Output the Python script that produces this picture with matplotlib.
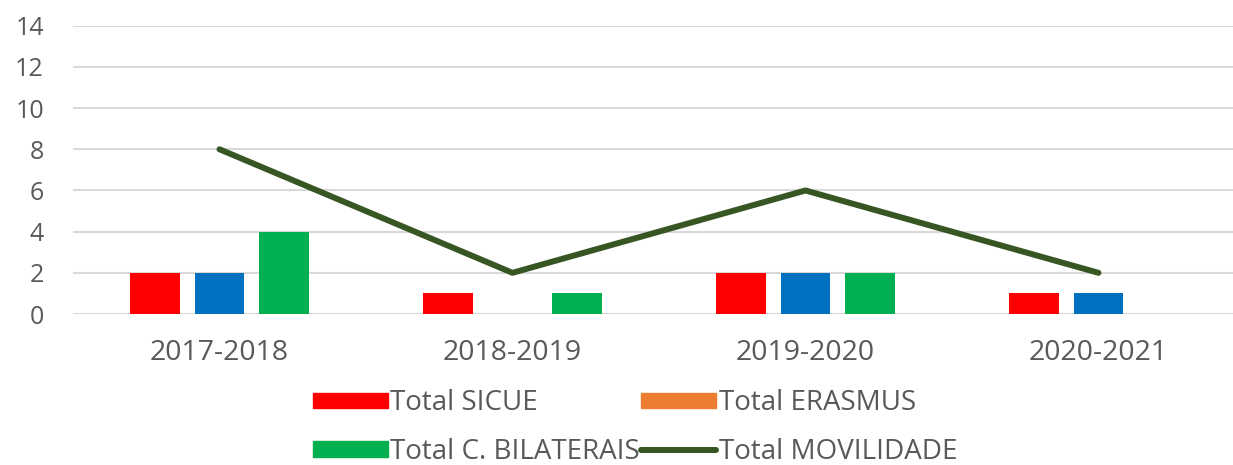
import matplotlib.pyplot as plt
import numpy as np
from matplotlib.patches import Patch
from matplotlib.lines import Line2D

plt.rcParams['font.family'] = ['Open Sans', 'DejaVu Sans']

categories = ["2017-2018", "2018-2019", "2019-2020", "2020-2021"]
total_sicue = [2, 1, 2, 1]
total_erasmus = [2, 0, 2, 1]
total_bilaterais = [4, 1, 2, 0]
total_movilidade = [8, 2, 6, 2]

red = "#ff0000"
blue = "#0070c0"
orange = "#ed7d31"
green = "#00b050"
dark_green = "#375623"
grey = "#595959"

fig = plt.figure(figsize=(12.33, 4.65), dpi=100)
ax = fig.add_axes([0.0592, 0.3247, 0.9505, 0.620])

x = np.arange(len(categories))
w = 0.17
off = 0.22
ax.bar(x - off, total_sicue, w, color=red, zorder=3)
ax.bar(x, total_erasmus, w, color=blue, zorder=3)
ax.bar(x + off, total_bilaterais, w, color=green, zorder=3)
ax.plot(x, total_movilidade, color=dark_green, lw=4.3, solid_capstyle='round', zorder=4)

ax.set_xlim(-0.5, 3.5)
ax.set_ylim(0, 14)
ax.set_yticks(range(0, 15, 2))
ax.set_xticks(x)
ax.set_xticklabels(categories)
ax.grid(axis='y', color="#d9d9d9", lw=1.5, zorder=0)
for s in ax.spines.values():
    s.set_visible(False)
ax.tick_params(length=0, labelsize=18, colors=grey)
ax.tick_params(axis='y', pad=21)
ax.tick_params(axis='x', pad=18, labelsize=20.5)

# legend fills column by column
handles = [Patch(color=red), Patch(color=green), Patch(color=orange),
           Line2D([], [], color=dark_green, lw=4.3, solid_capstyle='round')]
labels = ["Total SICUE", "Total C. BILATERAIS", "Total ERASMUS", "Total MOVILIDADE"]
fig.legend(handles, labels, ncol=2, loc='center', bbox_to_anchor=(0.515, 0.08),
           frameon=False, fontsize=20, labelcolor=grey, handlelength=2.7,
           handleheight=0.5, handletextpad=0.08, columnspacing=0.05, labelspacing=0.75,
           borderpad=0.1)

fig.savefig("out.png", dpi=100)
